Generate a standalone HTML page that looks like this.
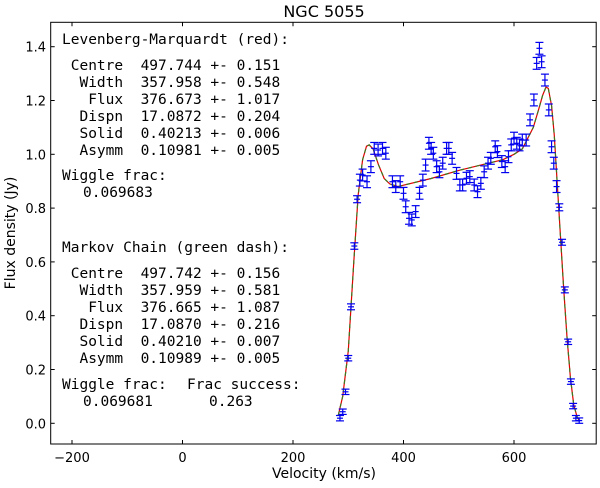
<!DOCTYPE html>
<html><head><meta charset="utf-8">
<style>
body{margin:0;background:#fff;}
svg text{font-family:"DejaVu Sans","Liberation Sans",sans-serif;}
.mono{font-family:"DejaVu Sans Mono","Liberation Mono",monospace;font-size:14.5px;white-space:pre;fill:#000;}
</style></head>
<body>
<svg id="chart" width="600" height="483" viewBox="0 0 600 483" xmlns="http://www.w3.org/2000/svg">
<rect x="0" y="0" width="600" height="483" fill="#fff"/>
<text x="324" y="17" font-size="16" text-anchor="middle">NGC 5055</text>
<text x="324" y="478" font-size="14" text-anchor="middle">Velocity (km/s)</text>
<text transform="translate(15,233) rotate(-90)" font-size="14" text-anchor="middle">Flux density (Jy)</text>
<g id="ticks"></g>
<g id="curves"></g>
<g id="points"></g>
<rect x="50.7" y="22.3" width="545.5" height="421.7" fill="none" stroke="#000" stroke-width="1"/>
<g>
<text class="mono" x="62" y="44">Levenberg-Marquardt (red):</text>
<text class="mono" x="62" y="70"> Centre  497.744 +- 0.151</text>
<text class="mono" x="62" y="87">  Width  357.958 +- 0.548</text>
<text class="mono" x="62" y="104">   Flux  376.673 +- 1.017</text>
<text class="mono" x="62" y="121">  Dispn  17.0872 +- 0.204</text>
<text class="mono" x="62" y="138">  Solid  0.40213 +- 0.006</text>
<text class="mono" x="62" y="155">  Asymm  0.10981 +- 0.005</text>
<text class="mono" x="62" y="180">Wiggle frac:</text>
<text class="mono" x="83" y="197">0.069683</text>
</g>
<g>
<text class="mono" x="62" y="252">Markov Chain (green dash):</text>
<text class="mono" x="62" y="278"> Centre  497.742 +- 0.156</text>
<text class="mono" x="62" y="295">  Width  357.959 +- 0.581</text>
<text class="mono" x="62" y="312">   Flux  376.665 +- 1.087</text>
<text class="mono" x="62" y="329">  Dispn  17.0870 +- 0.216</text>
<text class="mono" x="62" y="346">  Solid  0.40210 +- 0.007</text>
<text class="mono" x="62" y="363">  Asymm  0.10989 +- 0.005</text>
<text class="mono" x="62" y="389">Wiggle frac:</text>
<text class="mono" x="187" y="389">Frac success:</text>
<text class="mono" x="83" y="406">0.069681</text>
<text class="mono" x="209" y="406">0.263</text>
</g>
</svg>
<script>
const velocities=[285,290,295,300,305,311,316,321,326,334,341,347,354,362,368,380,386,394,400,404,410,415,422,429,435,440,446,450,454,460,465,471,478,482,488,496,502,507,514,520,528,534,540,546,553,558,566,570,578,584,590,595,600,605,610,615,622,629,636,641,646,650,656,663,668,672,677,682,687,692,698,703,707,712,718];
const fluxes=[0.019,0.043,0.117,0.242,0.433,0.659,0.833,0.904,0.923,0.898,0.954,1.022,1.016,1.022,1.004,0.898,0.880,0.898,0.855,0.805,0.762,0.756,0.787,0.855,0.904,0.960,1.041,1.022,1.004,0.954,0.935,0.967,1.022,1.022,0.985,0.929,0.886,0.886,0.911,0.917,0.886,0.861,0.892,0.935,0.967,0.985,1.028,1.010,0.973,0.954,0.991,1.035,1.060,1.041,1.035,1.053,1.053,1.128,1.202,1.338,1.394,1.344,1.276,1.165,1.028,0.967,0.880,0.803,0.673,0.496,0.303,0.155,0.064,0.019,0.010];
const errors=[0.01,0.01,0.01,0.01,0.011,0.012,0.013,0.022,0.022,0.022,0.022,0.022,0.022,0.022,0.022,0.022,0.022,0.022,0.022,0.022,0.022,0.022,0.022,0.022,0.022,0.022,0.022,0.022,0.022,0.022,0.022,0.022,0.022,0.022,0.022,0.022,0.022,0.022,0.022,0.022,0.022,0.022,0.022,0.022,0.022,0.022,0.022,0.022,0.022,0.022,0.022,0.022,0.022,0.022,0.022,0.022,0.022,0.022,0.022,0.022,0.022,0.022,0.022,0.022,0.022,0.022,0.022,0.013,0.011,0.011,0.01,0.01,0.01,0.01,0.01];
const modelV=[282,290,300,310,318,326,333,338,345,355,365,375,390,400,450,500,550,580,600,615,625,635,645,652,658,662,668,673,678,684,690,696,702,708,714,718];
const modelF=[0.03,0.1,0.27,0.6,0.85,0.98,1.03,1.035,1.02,0.96,0.91,0.89,0.88,0.885,0.91,0.94,0.965,0.98,1.0,1.02,1.06,1.10,1.17,1.22,1.25,1.245,1.18,1.07,0.9,0.7,0.5,0.32,0.17,0.07,0.025,0.01];
const xTicks=[-200,0,200,400,600];
const yTicks=[0.0,0.2,0.4,0.6,0.8,1.0,1.2,1.4];
const xTickLabels=["\u2212200","0","200","400","600"];
const yTickLabels=["0.0","0.2","0.4","0.6","0.8","1.0","1.2","1.4"];

const NS="http://www.w3.org/2000/svg";
function xs(v){return 182.5+v*0.5525;}
function ys(f){return 423.3-f*269;}
function mk(tag,attrs,parent){const e=document.createElementNS(NS,tag);for(const k in attrs)e.setAttribute(k,attrs[k]);parent.appendChild(e);return e;}

const tg=document.getElementById('ticks');
xTicks.forEach((t,i)=>{
  const x=xs(t);
  const a=mk('line',{x1:x,x2:x,y1:444,y2:440,stroke:'#000'},tg);
  
  
  const b=mk('line',{x1:x,x2:x,y1:22.3,y2:26.3,stroke:'#000'},tg);
  
  
  const l=mk('text',{x:x,y:462,'font-size':13,'text-anchor':'middle'},tg);
  l.textContent=xTickLabels[i];
  
  
});
yTicks.forEach((t,i)=>{
  const y=ys(t);
  const a=mk('line',{x1:50.7,x2:54.7,y1:y,y2:y,stroke:'#000'},tg);
  
  
  const b=mk('line',{x1:596.2,x2:592.2,y1:y,y2:y,stroke:'#000'},tg);
  
  
  const l=mk('text',{x:46,y:y+5,'font-size':13,'text-anchor':'end'},tg);
  l.textContent=yTickLabels[i];
  
  
});

const cg=document.getElementById('curves');
const d=modelV.map((v,i)=>(i?'L':'M')+xs(v).toFixed(1)+','+ys(modelF[i]).toFixed(1)).join(' ');
const red=mk('path',{d:d,fill:'none',stroke:'#e00000','stroke-width':1.2},cg);


const green=mk('path',{d:d,fill:'none',stroke:'#3a7a20','stroke-width':1.2,'stroke-dasharray':'4,4'},cg);



const pg=document.getElementById('points');
velocities.forEach((v,i)=>{
  const x=xs(v),y1=ys(fluxes[i]+errors[i]),y2=ys(fluxes[i]-errors[i]),y=ys(fluxes[i]);
  const g=mk('g',{stroke:'#0000ee','stroke-width':1.2},pg);
  
  
  mk('line',{x1:x,x2:x,y1:y1,y2:y2},g);
  mk('line',{x1:x-4,x2:x+4,y1:y1,y2:y1},g);
  mk('line',{x1:x-4,x2:x+4,y1:y2,y2:y2},g);
  mk('line',{x1:x-3,x2:x+3,y1:y,y2:y},g);
});
</script>
</body></html>
